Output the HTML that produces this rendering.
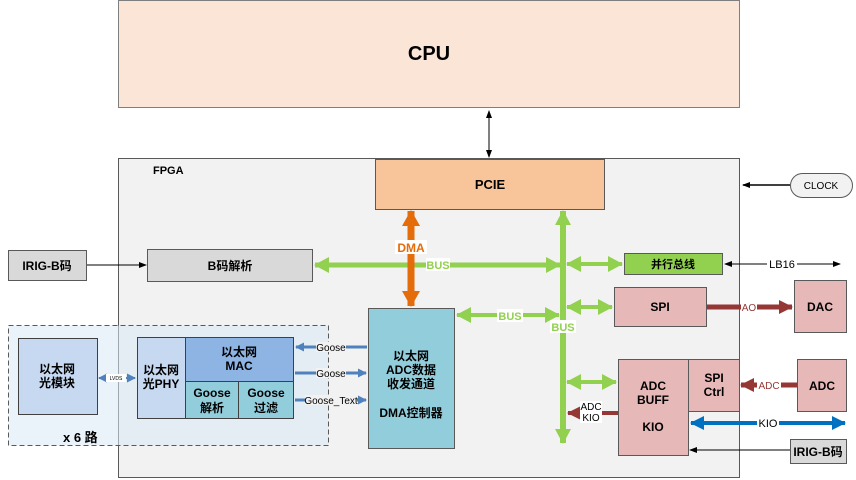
<!DOCTYPE html>
<html><head><meta charset="utf-8"><style>
body{margin:0;background:#fff}
svg{display:block;font-family:"Liberation Sans","Noto Sans CJK SC",sans-serif}
.b{font-weight:bold}
</style></head><body>
<svg width="856" height="480" viewBox="0 0 856 480" xmlns="http://www.w3.org/2000/svg">
<defs>
<marker id="k" markerWidth="8" markerHeight="8" refX="7" refY="4" orient="auto-start-reverse" markerUnits="userSpaceOnUse"><path d="M0,1 L8,4 L0,7 Z" fill="#000"/></marker>
<marker id="g" markerWidth="15" markerHeight="16" refX="14" refY="8" orient="auto-start-reverse" markerUnits="userSpaceOnUse"><path d="M0,0 L15,8 L0,16 Z" fill="#92d050"/></marker>
<marker id="o" markerWidth="16" markerHeight="18" refX="15" refY="9" orient="auto-start-reverse" markerUnits="userSpaceOnUse"><path d="M0,0 L16,9 L0,18 Z" fill="#e46c0a"/></marker>
<marker id="r" markerWidth="14" markerHeight="14" refX="13" refY="7" orient="auto-start-reverse" markerUnits="userSpaceOnUse"><path d="M0,0 L14,7 L0,14 Z" fill="#953735"/></marker>
<marker id="bl" markerWidth="14" markerHeight="14" refX="13" refY="7" orient="auto-start-reverse" markerUnits="userSpaceOnUse"><path d="M0,0 L14,7 L0,14 Z" fill="#0070c0"/></marker>
<marker id="lb" markerWidth="9" markerHeight="9" refX="8" refY="4.5" orient="auto-start-reverse" markerUnits="userSpaceOnUse"><path d="M0,0 L9,4.5 L0,9 Z" fill="#4f81bd"/></marker>
</defs>
<rect x="118.5" y="0.5" width="621" height="107" fill="#fbe5d6" stroke="#7f7f7f"/>
<text x="429" y="60" font-size="20" class="b" text-anchor="middle">CPU</text>
<line x1="489" y1="111" x2="489" y2="157" stroke="#000" marker-start="url(#k)" marker-end="url(#k)"/>
<rect x="118.5" y="158.5" width="621" height="319" fill="#f2f2f2" stroke="#595959"/>
<text x="153" y="174" font-size="11" class="b">FPGA</text>
<rect x="375.5" y="159.5" width="229" height="50" fill="#f8c59a" stroke="#595959"/>
<text x="490" y="189" font-size="13" class="b" text-anchor="middle">PCIE</text>
<rect x="790.5" y="173.5" width="62" height="24" rx="12" fill="#f2f2f2" stroke="#595959"/>
<text x="821" y="189" font-size="10" text-anchor="middle">CLOCK</text>
<line x1="790" y1="185" x2="743" y2="185" stroke="#000" stroke-width="1.5" marker-end="url(#k)"/>
<rect x="8.5" y="250.5" width="78" height="30" fill="#d9d9d9" stroke="#595959"/>
<text x="47" y="270" font-size="12" class="b" text-anchor="middle">IRIG-B码</text>
<line x1="87" y1="265" x2="146" y2="265" stroke="#000" marker-end="url(#k)"/>
<rect x="147.5" y="249.5" width="165" height="32" fill="#d9d9d9" stroke="#595959"/>
<text x="230" y="270" font-size="12" class="b" text-anchor="middle">B码解析</text>
<line x1="315" y1="265" x2="560" y2="265" stroke="#92d050" stroke-width="5" marker-start="url(#g)" marker-end="url(#g)"/>
<rect x="426" y="258" width="24" height="13" fill="#fff"/>
<text x="438" y="269" font-size="11" class="b" fill="#92d050" text-anchor="middle">BUS</text>
<line x1="411" y1="211" x2="411" y2="306" stroke="#e46c0a" stroke-width="7" marker-start="url(#o)" marker-end="url(#o)"/>
<rect x="395" y="240" width="32" height="14" fill="#fff"/>
<text x="411" y="252" font-size="12" class="b" fill="#e46c0a" text-anchor="middle">DMA</text>
<line x1="563" y1="211" x2="563" y2="443" stroke="#92d050" stroke-width="6" marker-start="url(#g)" marker-end="url(#g)"/>
<rect x="550" y="320" width="26" height="13" fill="#fff"/>
<text x="563" y="331" font-size="11" class="b" fill="#92d050" text-anchor="middle">BUS</text>
<line x1="567" y1="264" x2="622" y2="264" stroke="#92d050" stroke-width="4" marker-start="url(#g)" marker-end="url(#g)"/>
<rect x="624.5" y="253.5" width="98" height="21" fill="#92d050" stroke="#595959"/>
<text x="673" y="268" font-size="11" class="b" text-anchor="middle">并行总线</text>
<line x1="725" y1="264" x2="840" y2="264" stroke="#000" marker-start="url(#k)" marker-end="url(#k)"/>
<rect x="767" y="257" width="30" height="13" fill="#fff"/>
<text x="782" y="268" font-size="11" text-anchor="middle">LB16</text>
<line x1="567" y1="307" x2="612" y2="307" stroke="#92d050" stroke-width="4" marker-start="url(#g)" marker-end="url(#g)"/>
<rect x="614.5" y="287.5" width="92" height="39" fill="#e6b9b8" stroke="#595959"/>
<text x="660" y="311" font-size="12" class="b" text-anchor="middle">SPI</text>
<line x1="707" y1="307" x2="792" y2="307" stroke="#953735" stroke-width="5" marker-end="url(#r)"/>
<rect x="741" y="301" width="16" height="12" fill="#fff"/>
<text x="749" y="311" font-size="10" fill="#953735" text-anchor="middle">AO</text>
<rect x="794.5" y="280.5" width="52" height="52" fill="#e6b9b8" stroke="#595959"/>
<text x="820" y="311" font-size="12" class="b" text-anchor="middle">DAC</text>
<line x1="457" y1="315" x2="559" y2="315" stroke="#92d050" stroke-width="4" marker-start="url(#g)" marker-end="url(#g)"/>
<rect x="497" y="309" width="26" height="13" fill="#fff"/>
<text x="510" y="320" font-size="11" class="b" fill="#92d050" text-anchor="middle">BUS</text>
<rect x="368.5" y="308.5" width="86" height="140" fill="#92cddc" stroke="#595959"/>
<g font-size="12" class="b" text-anchor="middle"><text x="411" y="360">以太网</text><text x="411" y="374">ADC数据</text><text x="411" y="388">收发通道</text><text x="411" y="417">DMA控制器</text></g>
<line x1="567" y1="382" x2="616" y2="382" stroke="#92d050" stroke-width="4" marker-start="url(#g)" marker-end="url(#g)"/>
<rect x="618.5" y="359.5" width="70" height="96" fill="#e6b9b8" stroke="#595959"/>
<g font-size="12" class="b" text-anchor="middle"><text x="653" y="390">ADC</text><text x="653" y="404">BUFF</text><text x="653" y="431">KIO</text></g>
<rect x="688.5" y="359.5" width="51" height="52" fill="#e6b9b8" stroke="#595959"/>
<g font-size="12" class="b" text-anchor="middle"><text x="714" y="382">SPI</text><text x="714" y="396">Ctrl</text></g>
<line x1="618" y1="413" x2="568" y2="413" stroke="#953735" stroke-width="4" marker-end="url(#r)"/>
<rect x="580" y="401" width="22" height="22" fill="#fff"/>
<g font-size="10" text-anchor="middle"><text x="591" y="410">ADC</text><text x="591" y="421">KIO</text></g>
<rect x="797.5" y="359.5" width="49" height="52" fill="#e6b9b8" stroke="#595959"/>
<text x="822" y="390" font-size="12" class="b" text-anchor="middle">ADC</text>
<line x1="797" y1="385" x2="741" y2="385" stroke="#953735" stroke-width="5" marker-end="url(#r)"/>
<rect x="757" y="379" width="24" height="12" fill="#fff"/>
<text x="769" y="389" font-size="10" fill="#953735" text-anchor="middle">ADC</text>
<line x1="691" y1="423" x2="845" y2="423" stroke="#0070c0" stroke-width="4" marker-start="url(#bl)" marker-end="url(#bl)"/>
<rect x="757" y="416" width="22" height="13" fill="#fff"/>
<text x="768" y="427" font-size="11" text-anchor="middle">KIO</text>
<rect x="790.5" y="439.5" width="56" height="24" fill="#d9d9d9" stroke="#595959"/>
<text x="818" y="456" font-size="12" class="b" text-anchor="middle">IRIG-B码</text>
<line x1="790" y1="450" x2="690" y2="450" stroke="#000" marker-end="url(#k)"/>
<rect x="8.5" y="325.5" width="320" height="120" fill="#dbe9f5" fill-opacity="0.55" stroke="#595959" stroke-dasharray="5,3"/>
<text x="63" y="442" font-size="13" class="b">x 6 路</text>
<rect x="18.5" y="338.5" width="79" height="76" fill="#c6d9f1" stroke="#404040"/>
<g font-size="12" class="b" text-anchor="middle"><text x="57" y="373">以太网</text><text x="57" y="387">光模块</text></g>
<line x1="99" y1="378" x2="135" y2="378" stroke="#4f81bd" stroke-width="2" marker-start="url(#lb)" marker-end="url(#lb)"/>
<rect x="106" y="374" width="20" height="8" fill="#fff"/>
<text x="116" y="380" font-size="5" text-anchor="middle">LVDS</text>
<rect x="137.5" y="337.5" width="48" height="81" fill="#c6d9f1" stroke="#404040"/>
<g font-size="12" class="b" text-anchor="middle"><text x="161" y="374">以太网</text><text x="161" y="388">光PHY</text></g>
<rect x="185.5" y="337.5" width="108" height="44" fill="#8db4e2" stroke="#404040"/>
<g font-size="12" class="b" text-anchor="middle"><text x="239" y="356">以太网</text><text x="239" y="370">MAC</text></g>
<rect x="185.5" y="381.5" width="53" height="37" fill="#92cddc" stroke="#404040"/>
<rect x="238.5" y="381.5" width="55" height="37" fill="#92cddc" stroke="#404040"/>
<g font-size="12" class="b" text-anchor="middle"><text x="212" y="397">Goose</text><text x="212" y="412">解析</text><text x="266" y="397">Goose</text><text x="266" y="412">过滤</text></g>
<g stroke="#4f81bd" stroke-width="3">
<line x1="367" y1="347" x2="296" y2="347" marker-end="url(#lb)"/>
<line x1="295" y1="373" x2="366" y2="373" marker-end="url(#lb)"/>
<line x1="295" y1="400" x2="366" y2="400" marker-end="url(#lb)"/>
</g>
<g font-size="10" text-anchor="middle"><rect x="316" y="342" width="30" height="10" fill="#f2f2f2"/><text x="331" y="351">Goose</text>
<rect x="316" y="368" width="30" height="10" fill="#f2f2f2"/><text x="331" y="377">Goose</text>
<rect x="305" y="395" width="52" height="10" fill="#f2f2f2"/><text x="331" y="404">Goose_Text</text></g>
</svg>
</body></html>
